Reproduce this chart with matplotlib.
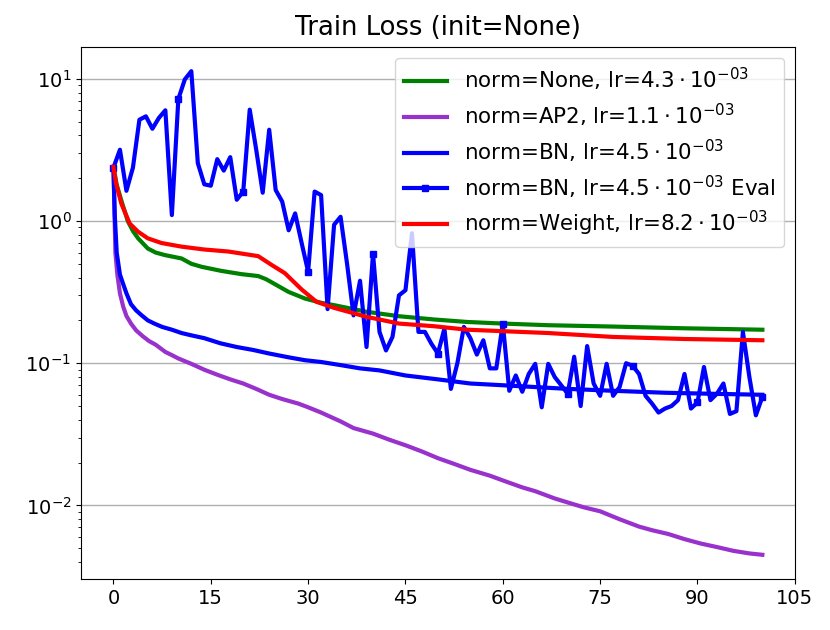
import matplotlib
matplotlib.use("Agg")
import matplotlib.pyplot as plt
from matplotlib.ticker import FixedLocator

# ---------------- data ----------------
x_none = [0, 0.5, 1.2, 2.2, 3, 3.8, 5.3, 6.5, 7.9, 10.5, 12, 13.6, 16.6, 19.7, 22.3, 23.5,
          24.4, 27, 29.5, 32, 34, 39, 44, 49.4, 54.5, 60, 67, 77, 88, 100]
y_none = [2.4, 1.8, 1.4, 1.0, 0.85, 0.755, 0.64, 0.6, 0.576, 0.545, 0.5, 0.476, 0.446, 0.423,
          0.41, 0.39, 0.37, 0.317, 0.285, 0.266, 0.256, 0.23, 0.214, 0.203, 0.195, 0.19,
          0.185, 0.181, 0.176, 0.172]

x_ap2 = [0, 0.3, 0.6, 1, 1.5, 2, 2.7, 3.5, 4.5, 5.5, 6.5, 8, 9, 10, 12, 14, 16, 18, 20, 22,
         24, 26, 28.5, 30, 32, 35, 37, 40, 42.5, 45, 47.5, 50, 52.5, 55, 58, 60, 63, 65, 68,
         70, 72.5, 75, 78, 81, 83, 85.5, 88, 90.5, 93, 95.5, 98, 100]
y_ap2 = [2.4, 0.6, 0.42, 0.31, 0.25, 0.215, 0.19, 0.17, 0.155, 0.143, 0.135, 0.12, 0.114,
         0.108, 0.099, 0.09, 0.083, 0.077, 0.072, 0.066, 0.06, 0.056, 0.052, 0.049, 0.045,
         0.039, 0.035, 0.032, 0.029, 0.0265, 0.024, 0.0215, 0.0196, 0.0178, 0.0162, 0.0150,
         0.0134, 0.0126, 0.0112, 0.0105, 0.0097, 0.0091, 0.0080, 0.0071, 0.0067, 0.0063,
         0.0058, 0.0054, 0.0051, 0.0048, 0.0046, 0.0045]

x_bn = [0, 0.2, 0.5, 1, 1.5, 2, 2.7, 3.5, 4.3, 5.3, 6.3, 7.5, 9, 10.5, 12, 14, 16.5, 19,
        21.5, 24, 27, 29.5, 32, 35, 38, 41, 45, 50, 55, 60, 65, 70, 77, 85, 92, 100]
y_bn = [2.4, 1.1, 0.6, 0.42, 0.36, 0.31, 0.26, 0.235, 0.218, 0.2, 0.19, 0.18, 0.172, 0.163,
        0.157, 0.15, 0.138, 0.13, 0.124, 0.117, 0.11, 0.105, 0.102, 0.097, 0.092, 0.089,
        0.082, 0.077, 0.072, 0.070, 0.068, 0.066, 0.064, 0.062, 0.061, 0.060]

epochs_eval = list(range(101))
y_bn_eval = [2.37, 3.17, 1.63, 2.37, 5.15, 5.44, 4.45, 5.3, 6.0, 1.1,
             7.2, 9.9, 11.3, 2.55, 1.81, 1.77, 2.72, 2.26, 2.81, 1.41,
             1.61, 6.06, 3.17, 1.58, 4.38, 1.65, 1.37, 0.86, 1.13, 0.70,
             0.44, 1.61, 1.52, 0.24, 0.94, 1.07, 0.5, 0.217, 0.38, 0.13,
             0.59, 0.166, 0.123, 0.153, 0.30, 0.326, 0.82, 0.166, 0.166, 0.137,
             0.117, 0.175, 0.066, 0.10, 0.18, 0.15, 0.115, 0.145, 0.092, 0.092,
             0.19, 0.064, 0.082, 0.063, 0.084, 0.099, 0.049, 0.099, 0.080, 0.07,
             0.061, 0.111, 0.050, 0.132, 0.072, 0.059, 0.099, 0.059, 0.068, 0.10,
             0.096, 0.084, 0.059, 0.052, 0.045, 0.048, 0.050, 0.055, 0.084, 0.048,
             0.053, 0.094, 0.055, 0.061, 0.072, 0.044, 0.046, 0.166, 0.080, 0.043,
             0.058]

x_weight = [0, 0.4, 1.2, 2.5, 3.8, 5.3, 7.4, 10.5, 14, 17.7, 22.3, 24.4, 26.4, 29, 31.3, 34,
            39, 44, 49.4, 54.5, 60, 67, 77, 88, 100]
y_weight = [2.4, 1.84, 1.33, 0.96, 0.84, 0.755, 0.70, 0.66, 0.63, 0.61, 0.566, 0.49, 0.43,
            0.33, 0.27, 0.245, 0.212, 0.19, 0.182, 0.172, 0.168, 0.163, 0.153, 0.148, 0.145]

labels = [r'norm=None, lr=$4.3\cdot10^{-03}$',
          r'norm=AP2, lr=$1.1\cdot10^{-03}$',
          r'norm=BN, lr=$4.5\cdot10^{-03}$',
          r'norm=BN, lr=$4.5\cdot10^{-03}$ Eval',
          r'norm=Weight, lr=$8.2\cdot10^{-03}$']
xticks = [0, 15, 30, 45, 60, 75, 90, 105]
title = 'Train Loss (init=None)'

# ---------------- plot ----------------
plt.rcParams['font.family'] = ['DejaVu Sans']
fig = plt.figure(figsize=(8.3, 6.3), dpi=100)
ax = fig.add_axes([0.0976, 0.081, 0.860, 0.8444])

lw = 3.0
ax.plot(x_none, y_none, color='green', lw=lw, label=labels[0])
ax.plot(x_ap2, y_ap2, color='darkorchid', lw=lw, label=labels[1])
ax.plot(x_bn, y_bn, color='blue', lw=lw, label=labels[2])
ax.plot(epochs_eval, y_bn_eval, color='blue', lw=lw, marker='s', markersize=5,
        markevery=10, label=labels[3])
ax.plot(x_weight, y_weight, color='red', lw=lw, label=labels[4])

ax.set_yscale('log')
ax.set_xlim(-5, 105)
ax.xaxis.set_major_locator(FixedLocator(xticks))
ax.grid(True, which='major', axis='y', color='#b0b0b0', lw=1.0)
ax.tick_params(labelsize=14)
ax.set_title(title, fontsize=18.6, pad=8.5)
ax.legend(loc='upper right', fontsize=15.4, labelspacing=0.4)

fig.savefig('out.png', dpi=100)
